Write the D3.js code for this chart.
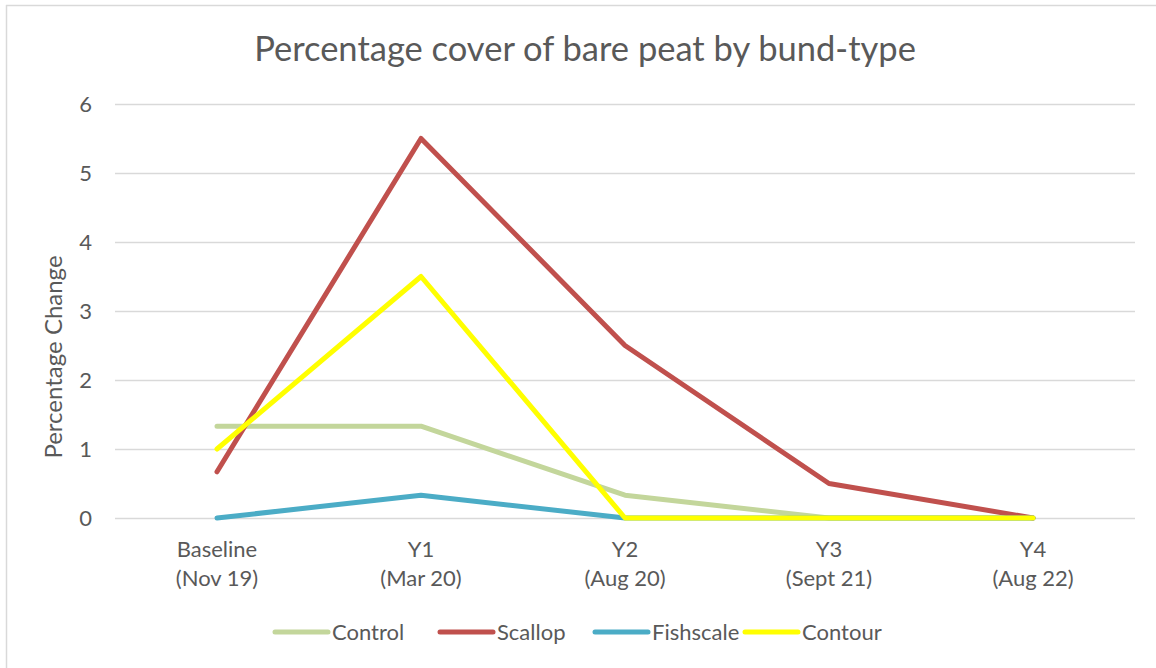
<!DOCTYPE html>
<html><head><meta charset="utf-8">
<script src="https://cdn.jsdelivr.net/npm/d3@7"></script>
<style>body{margin:0;background:#fff;} svg{display:block;font-family:Lato, "Liberation Sans", sans-serif;}</style>
</head><body>
<svg id="c" width="1156" height="668"></svg>
<script>
const categories = ["Baseline\n(Nov 19)", "Y1\n(Mar 20)", "Y2\n(Aug 20)", "Y3\n(Sept 21)", "Y4\n(Aug 22)"];
const seriesNames = ["Control", "Scallop", "Fishscale", "Contour"];
const control = [1.33, 1.33, 0.33, 0, 0];
const scallop = [0.67, 5.5, 2.5, 0.5, 0];
const fishscale = [0, 0.33, 0, 0, 0];
const contour = [1, 3.5, 0, 0, 0];
const yTicks = [0, 1, 2, 3, 4, 5, 6];
const colors = ["#c3d69b", "#c0504d", "#4bacc6", "#ffff00"];

const series = [control, scallop, fishscale, contour];
const svg = d3.select("#c");
const textColor = "#595959";

// frame
svg.append("line").attr("x1", 6.5).attr("x2", 6.5).attr("y1", 5).attr("y2", 668).attr("stroke", "#d9d9d9").attr("stroke-width", 1.5);
svg.append("line").attr("x1", 6).attr("x2", 1156).attr("y1", 5.5).attr("y2", 5.5).attr("stroke", "#d9d9d9").attr("stroke-width", 1.5);

const x = d3.scaleBand().domain(categories).range([115, 1135]);
const y = d3.scaleLinear().domain([0, 6]).range([518, 104]);

// grid
svg.append("g").selectAll("line").data(yTicks).join("line")
  .attr("x1", 115).attr("x2", 1135)
  .attr("y1", d => y(d) + 0.5).attr("y2", d => y(d) + 0.5)
  .attr("stroke", "#d9d9d9").attr("stroke-width", 1.5);

// y tick labels
svg.append("g").selectAll("text").data(yTicks).join("text")
  .attr("x", 92).attr("y", d => y(d)).attr("dy", "0.35em")
  .attr("text-anchor", "end").attr("fill", textColor).attr("font-size", 22)
  .text(d => d);

// x labels
const xl = svg.append("g").selectAll("text").data(categories).join("text")
  .attr("text-anchor", "middle").attr("fill", textColor).attr("font-size", 22)
  .attr("transform", d => `translate(${x(d) + x.bandwidth() / 2},0)`);
xl.each(function(d) {
  const parts = d.split("\n");
  d3.select(this).selectAll("tspan").data(parts).join("tspan")
    .attr("x", 0).attr("y", (p, i) => 557 + i * 29).text(p => p);
});

// title
svg.append("text").attr("x", 585).attr("y", 61).attr("text-anchor", "middle")
  .attr("fill", textColor).attr("font-size", 34.5).text("Percentage cover of bare peat by bund-type");

// y axis title
svg.append("text").attr("transform", "translate(62,357) rotate(-90)")
  .attr("text-anchor", "middle").attr("fill", textColor).attr("font-size", 24)
  .text("Percentage Change");

// lines
const line = d3.line().x((d, i) => x(categories[i]) + x.bandwidth() / 2).y(d => y(d));
svg.append("g").selectAll("path").data(series).join("path")
  .attr("d", d => line(d)).attr("fill", "none")
  .attr("stroke", (d, i) => colors[i]).attr("stroke-width", 5)
  .attr("stroke-linecap", "round").attr("stroke-linejoin", "round");

// legend
const legX = [275, 440, 595, 745];
const leg = svg.append("g").selectAll("g").data(seriesNames).join("g")
  .attr("transform", (d, i) => `translate(${legX[i]},632)`);
leg.append("line").attr("x1", 0).attr("x2", 53).attr("y1", 0).attr("y2", 0)
  .attr("stroke", (d, i) => colors[i]).attr("stroke-width", 5).attr("stroke-linecap", "round");
leg.append("text").attr("x", 57).attr("dy", "0.35em").attr("fill", textColor).attr("font-size", 22).text(d => d);
</script>
</body></html>
